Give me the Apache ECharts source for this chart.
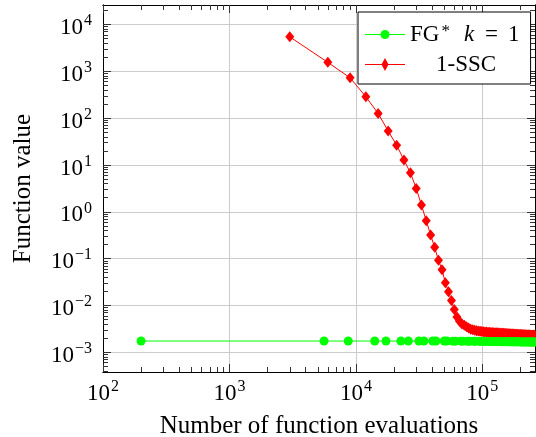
<!DOCTYPE html>
<html>
<head>
<meta charset="utf-8">
<script src="https://cdn.jsdelivr.net/npm/echarts@6/dist/echarts.min.js"></script>
<style>
  html, body { margin: 0; padding: 0; background: #fff; }
  #chart { width: 536px; height: 437px; }
</style>
</head>
<body>
<div id="chart"></div>
<script>
// FG* (k = 1): evaluations and function values
const fgEvals = [200, 5600, 8700, 14100, 17300, 22700, 26000, 31500, 34500, 40500, 43000, 50000, 52500,
  58500, 61500, 67500, 70500, 76500, 79500, 85500, 88500, 94500, 97500, 103500, 106500, 112500, 115500,
  121500, 124500, 130500, 133500, 139500, 142500, 148500, 151500, 157500, 160500, 166500, 169500,
  175500, 178500, 184500, 187500, 193500, 196500, 202500, 205500, 211500, 214500, 220500, 223500,
  229500, 232500, 238500, 241500, 247500, 250500, 256500, 259500];
const fgValues = [0.00174, 0.00174, 0.00174, 0.00174, 0.00174, 0.00174, 0.00174, 0.00174, 0.00174, 0.00174, 0.00174, 0.00174, 0.00174,
  0.00173, 0.00173, 0.00173, 0.00173, 0.00172, 0.00172, 0.00172, 0.00172, 0.00171, 0.00171, 0.00171, 0.00171, 0.0017, 0.0017,
  0.0017, 0.0017, 0.0017, 0.0017, 0.00169, 0.00169, 0.00169, 0.00169, 0.00169, 0.00169, 0.00168, 0.00168,
  0.00168, 0.00168, 0.00168, 0.00168, 0.00168, 0.00168, 0.00167, 0.00167, 0.00167, 0.00167, 0.00167, 0.00167,
  0.00167, 0.00167, 0.00166, 0.00166, 0.00166, 0.00166, 0.00166, 0.00166];

// 1-SSC: evaluations and function values
const sscEvals = [3000, 6000, 9000, 12000, 15000, 18000, 21000, 24000, 27000, 30000,
  33000, 36000, 39000, 42000, 45000, 48000, 51000, 54000, 57000, 60000,
  63000, 66000, 69000, 72000, 75000, 78000, 81000, 84000, 87000, 90000,
  93000, 96000, 99000, 102000, 105000, 108000, 111000, 114000, 117000, 120000,
  123000, 126000, 129000, 132000, 135000, 138000, 141000, 144000, 147000, 150000,
  153000, 156000, 159000, 162000, 165000, 168000, 171000, 174000, 177000, 180000,
  183000, 186000, 189000, 192000, 195000, 198000, 201000, 204000, 207000, 210000,
  213000, 216000, 219000, 222000, 225000, 228000, 231000, 234000, 237000, 240000,
  243000, 246000, 249000, 252000, 255000, 258000, 261000];
const sscValues = [5430, 1550, 725, 285, 126, 53, 26.5, 12.7, 6.8, 3.15,
  1.39, 0.645, 0.32, 0.174, 0.092, 0.058, 0.0306, 0.0197, 0.0127, 0.0082,
  0.0057, 0.0046, 0.004, 0.0038, 0.0035, 0.0033, 0.0031, 0.00302, 0.00296, 0.0029,
  0.00285, 0.00281, 0.00278, 0.00275, 0.00273, 0.00271, 0.00269, 0.00268, 0.00266, 0.00265,
  0.00263, 0.00262, 0.00261, 0.00259, 0.00258, 0.00257, 0.00256, 0.00255, 0.00254, 0.00253,
  0.00252, 0.00251, 0.0025, 0.00249, 0.00248, 0.00247, 0.00246, 0.00246, 0.00245, 0.00244,
  0.00243, 0.00243, 0.00242, 0.00241, 0.0024, 0.0024, 0.00239, 0.00239, 0.00238, 0.00237,
  0.00237, 0.00236, 0.00236, 0.00235, 0.00235, 0.00234, 0.00234, 0.00233, 0.00233, 0.00232,
  0.00232, 0.00231, 0.00231, 0.0023, 0.0023, 0.00229, 0.00229];

// Axis ranges and labelled (decade) ticks
const xRange = [100, 261000];
const yRange = [3.8e-4, 2.6e4];
const xMajorTicks = [1e2, 1e3, 1e4, 1e5];
const yMajorTicks = [1e-3, 1e-2, 1e-1, 1e0, 1e1, 1e2, 1e3, 1e4];

const FONT = 'Liberation Serif';

// 2..9 x 10^d minor ticks inside a range
function minorTicks(range) {
  const out = [];
  const d0 = Math.floor(Math.log10(range[0]));
  const d1 = Math.ceil(Math.log10(range[1]));
  for (let d = d0; d <= d1; d++) {
    for (let m = 2; m <= 9; m++) {
      const v = Number((m * Math.pow(10, d)).toPrecision(6));
      if (v > range[0] && v < range[1]) out.push(v);
    }
  }
  return out;
}

function powerLabel(v) {
  const e = Math.round(Math.log10(v));
  return '{b|10}{s|' + (e < 0 ? '\u2212' + (-e) : e) + '}';
}

// base "10" plus a raised exponent
const labelRich = {
  b: { fontFamily: FONT, fontSize: 23, color: '#000', lineHeight: 26 },
  s: { fontFamily: FONT, fontSize: 16, color: '#000', lineHeight: 12, padding: [0, 0, 14, 1] }
};

const frame = { show: true, onZero: false, lineStyle: { color: '#000', width: 1 } };
const gridStyle = { show: true, lineStyle: { color: '#cbcbcb', width: 1 } };

function xAxis(position, major, withLabels) {
  return {
    type: 'log', gridIndex: 0, position: position, min: xRange[0], max: xRange[1],
    axisLine: frame,
    axisTick: { show: true, inside: true, length: major ? 8 : 5,
      customValues: major ? xMajorTicks : minorTicks(xRange),
      lineStyle: { color: '#333', width: 1 } },
    axisLabel: withLabels ? { show: true, customValues: xMajorTicks, margin: 9,
      formatter: powerLabel, rich: labelRich } : { show: false },
    splitLine: withLabels ? gridStyle : { show: false },
    name: withLabels ? 'Number of function evaluations' : '',
    nameLocation: 'middle', nameGap: 39,
    nameTextStyle: { fontFamily: FONT, fontSize: 25, color: '#000' }
  };
}

function yAxis(position, major, withLabels) {
  return {
    type: 'log', gridIndex: 0, position: position, min: yRange[0], max: yRange[1],
    axisLine: frame,
    axisTick: { show: true, inside: true, length: major ? 8 : 5,
      customValues: major ? yMajorTicks : minorTicks(yRange),
      lineStyle: { color: '#333', width: 1 } },
    axisLabel: withLabels ? { show: true, customValues: yMajorTicks, margin: 11,
      padding: [7, 0, 0, 0], formatter: powerLabel, rich: labelRich } : { show: false },
    splitLine: withLabels ? gridStyle : { show: false },
    name: withLabels ? 'Function value' : '',
    nameLocation: 'middle', nameGap: 67, nameRotate: 90,
    nameTextStyle: { fontFamily: FONT, fontSize: 25, color: '#000' }
  };
}

const fgName = 'FG* k = 1';
const sscName = '1-SSC';

const chart = echarts.init(document.getElementById('chart'), null, { renderer: 'canvas' });
chart.setOption({
  animation: false,
  backgroundColor: '#fff',
  grid: { left: 103, right: 1, top: 5, bottom: 65, containLabel: false, outerBoundsMode: 'none' },
  xAxis: [xAxis('bottom', true, true), xAxis('bottom', false, false),
          xAxis('top', true, false), xAxis('top', false, false)],
  yAxis: [yAxis('left', true, true), yAxis('left', false, false),
          yAxis('right', true, false), yAxis('right', false, false)],
  legend: {
    orient: 'vertical', left: 358, top: 12,
    padding: [11, 11, 8, 7], itemGap: 7, itemWidth: 40, itemHeight: 16,
    symbolKeepAspect: true,
    backgroundColor: '#fff', borderColor: '#000', borderWidth: 1, borderRadius: 0,
    textStyle: {
      fontFamily: FONT, fontSize: 23, color: '#000',
      rich: {
        r: { fontFamily: FONT, fontSize: 23, lineHeight: 22 },
        a: { fontFamily: FONT, fontSize: 17, lineHeight: 16, padding: [0, 0, 6, 2] },
        i: { fontFamily: FONT, fontSize: 23, fontStyle: 'italic', lineHeight: 22, padding: [0, 0, 0, 14] },
        e: { fontFamily: FONT, fontSize: 23, lineHeight: 22, padding: [0, 10, 0, 11] },
        c: { fontFamily: FONT, fontSize: 23, lineHeight: 22, padding: [0, 0, 0, 26] }
      }
    },
    formatter: function (name) {
      if (name === fgName) return '{r|FG}{a|*}{i|k}{e|=}{r|1}';
      return '{c|' + name + '}';
    },
    data: [
      { name: fgName, icon: 'path://M0,7.5h40v1h-40z M24.5,8 A4.5,4.5 0 1,1 15.5,8 A4.5,4.5 0 1,1 24.5,8z' },
      { name: sscName, icon: 'path://M0,7.5h40v1h-40z M20,1.5 L23.5,8 L20,14.5 L16.5,8z' }
    ]
  },
  series: [
    {
      name: sscName, type: 'line', xAxisIndex: 0, yAxisIndex: 0, z: 2,
      data: sscEvals.map((x, i) => [x, sscValues[i]]),
      symbol: 'diamond', symbolSize: [9, 11],
      itemStyle: { color: '#ff0000' }, lineStyle: { color: '#ff0000', width: 1 },
      emphasis: { disabled: true }
    },
    {
      name: fgName, type: 'line', xAxisIndex: 0, yAxisIndex: 0, z: 3,
      data: fgEvals.map((x, i) => [x, fgValues[i]]),
      symbol: 'circle', symbolSize: 9,
      itemStyle: { color: '#00ff00' }, lineStyle: { color: '#00ff00', width: 1 },
      emphasis: { disabled: true }
    }
  ]
});
</script>
</body>
</html>
